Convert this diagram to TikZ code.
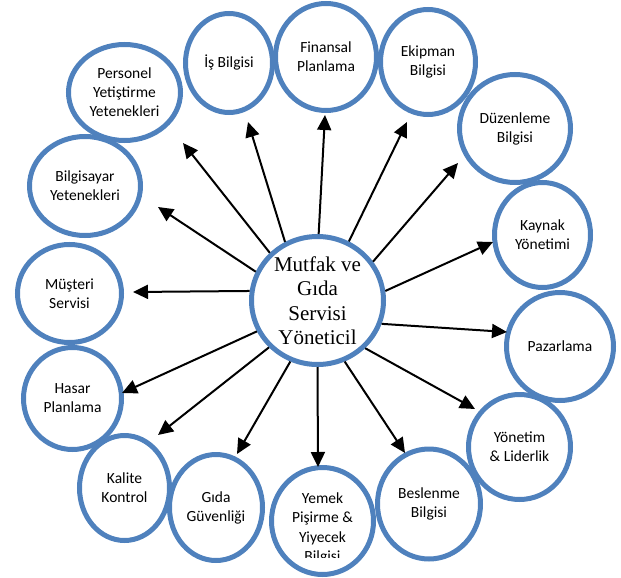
\documentclass[tikz,border=0pt]{standalone}
\usepackage{fontspec}
\setmainfont{Liberation Serif}
\newfontfamily\calfont{Carlito}
\usetikzlibrary{shapes.geometric,arrows.meta}
\definecolor{wblue}{RGB}{79,129,189}
\begin{document}
\begin{tikzpicture}[x=1pt,y=-1pt,
  bub/.style={ellipse, draw=wblue, line width=5pt, inner sep=0pt, align=center,
    font=\calfont\fontsize{15.5}{19}\selectfont, text=black},
  btxt/.style={inner sep=0pt, align=center, font=\calfont\fontsize{15.5}{19.5}\selectfont, text=black},
  hub/.style={ellipse, draw=wblue, line width=5pt, inner sep=0pt, align=center,
    font=\fontsize{21}{24.5}\selectfont, text=black},
  arr/.style={line width=2pt, -{Triangle[length=15pt,width=14pt]}}]
\useasboundingbox (0,0) rectangle (621,578);

% centre
\node[hub, minimum width=132pt, minimum height=128pt] (c) at (317.5,300.5) {Mutfak ve\\Gıda\\Servisi\\Yöneticil};

% outer bubbles
\node[bub, minimum width=112pt, minimum height=96pt]  (pers) at (124.5,92.5) {Personel\\Yetiştirme\\Yetenekleri};
\node[bub, minimum width=87pt,  minimum height=99pt]  (is)   at (229,63)     {İş Bilgisi};
\node[bub, minimum width=111pt, minimum height=99pt]  (bilg) at (85,186)     {Bilgisayar\\Yetenekleri};
\node[bub, minimum width=101pt, minimum height=107pt] (fin)  at (326,57)     {Finansal\\Planlama};
\node[bub, minimum width=95pt,  minimum height=105pt] (ekip) at (428,62)     {Ekipman\\Bilgisi};
\node[bub, minimum width=111pt, minimum height=108pt] (duz)  at (515,128.5)  {Düzenleme\\Bilgisi};
\node[bub, minimum width=96pt,  minimum height=105pt] (kay)  at (542.5,235)  {Kaynak\\Yönetimi};
\node[bub, minimum width=107pt, minimum height=108pt] (paz)  at (560,346.5)  {Pazarlama};
\node[bub, minimum width=102pt, minimum height=105pt] (yon)  at (519.5,447)  {Yönetim\\\& Liderlik};
\node[bub, minimum width=103pt, minimum height=110pt] (bes)  at (429,504)    {Beslenme\\Bilgisi};
\node[bub, minimum width=102pt, minimum height=107pt] (yem)  at (322.5,521)  {};
\node[bub, minimum width=93pt,  minimum height=106pt] (gid)  at (216,507.5)  {Gıda\\Güvenliği};
\node[bub, minimum width=90pt,  minimum height=105pt] (kal)  at (124.5,488)  {Kalite\\Kontrol};
\node[bub, minimum width=98pt,  minimum height=102pt] (has)  at (72.5,398.5) {Hasar\\Planlama};
\node[bub, minimum width=104pt, minimum height=98pt]  (mus)  at (69.5,293.5) {Müşteri\\Servisi};

% clipped text of the Yemek bubble
\begin{scope}
  \clip (260,470) rectangle (385,557);
  \node[btxt] (yemt) at (322.5,528.5) {Yemek\\Pişirme \&\\Yiyecek\\Bilgisi};
\end{scope}

% arrow tips
\coordinate (t1) at (183,143);
\coordinate (t2) at (248,122);
\coordinate (t3) at (158,207);
\coordinate (t4) at (325,115);
\coordinate (t5) at (407,122);
\coordinate (t6) at (458,163);
\coordinate (t7) at (493,242);
\coordinate (t8) at (133,292);
\coordinate (t9) at (122,393);
\coordinate (t10) at (158,435);
\coordinate (t11) at (237,454);
\coordinate (t12) at (318,467);
\coordinate (t13) at (405,453);
\coordinate (t14) at (475,409);
\coordinate (t15) at (507,332);

\draw[arr] (c.135) -- (t1);
\draw[arr] (c.119) -- (t2);
\draw[arr] (c.155) -- (t3);
\draw[arr] (c.89) -- (t4);
\draw[arr] (c.62) -- (t5);
\draw[arr] (c.35) -- (t6);
\draw[arr] (c.8) -- (t7);
\draw[arr] (c.172) -- (t8);
\draw[arr] (c.-153) -- (t9);
\draw[arr] (c.-136) -- (t10);
\draw[arr] (c.-114) -- (t11);
\draw[arr] (c.-90) -- (t12);
\draw[arr] (c.-66) -- (t13);
\draw[arr] (c.-45) -- (t14);
\draw[arr] (c.-20) -- (t15);
\end{tikzpicture}
\end{document}
